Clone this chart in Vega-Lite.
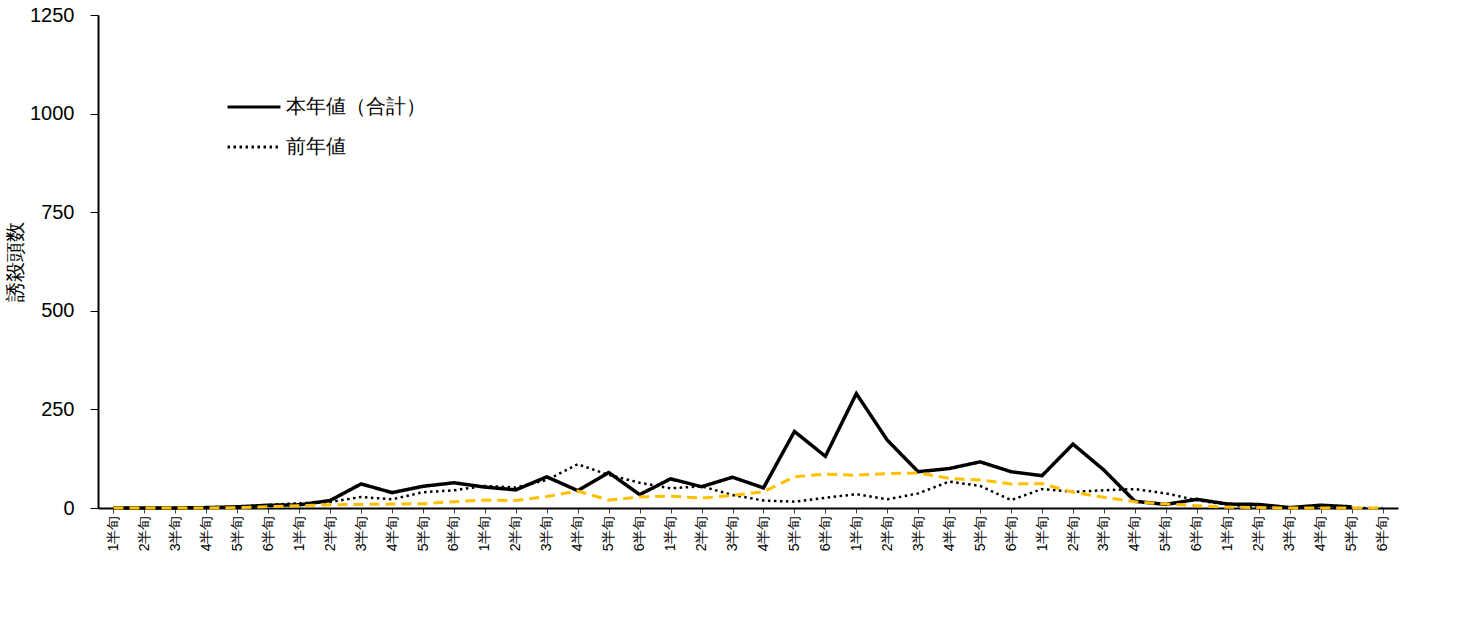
{
  "$schema": "https://vega.github.io/schema/vega-lite/v6.json",
  "width": 1300,
  "height": 493,
  "background": "white",
  "config": {
    "view": {"stroke": null},
    "axis": {"labelColor": "black", "titleColor": "black"}
  },
  "data": {"values": [
      {"k": "05月1半旬", "cur": 0, "prev": 0, "avg": 0},
      {"k": "05月2半旬", "cur": 0, "prev": 0, "avg": 0},
      {"k": "05月3半旬", "cur": 0, "prev": 0, "avg": 0},
      {"k": "05月4半旬", "cur": 1, "prev": 1, "avg": 0},
      {"k": "05月5半旬", "cur": 3, "prev": 3, "avg": 1},
      {"k": "05月6半旬", "cur": 7, "prev": 8, "avg": 3},
      {"k": "06月1半旬", "cur": 8, "prev": 12, "avg": 6},
      {"k": "06月2半旬", "cur": 19, "prev": 15, "avg": 8},
      {"k": "06月3半旬", "cur": 61, "prev": 28, "avg": 9},
      {"k": "06月4半旬", "cur": 39, "prev": 22, "avg": 10},
      {"k": "06月5半旬", "cur": 55, "prev": 40, "avg": 11},
      {"k": "06月6半旬", "cur": 64, "prev": 45, "avg": 16},
      {"k": "07月1半旬", "cur": 53, "prev": 56, "avg": 20},
      {"k": "07月2半旬", "cur": 46, "prev": 52, "avg": 19},
      {"k": "07月3半旬", "cur": 79, "prev": 71, "avg": 29},
      {"k": "07月4半旬", "cur": 44, "prev": 111, "avg": 43},
      {"k": "07月5半旬", "cur": 90, "prev": 84, "avg": 20},
      {"k": "07月6半旬", "cur": 34, "prev": 64, "avg": 28},
      {"k": "08月1半旬", "cur": 74, "prev": 50, "avg": 30},
      {"k": "08月2半旬", "cur": 54, "prev": 55, "avg": 25},
      {"k": "08月3半旬", "cur": 78, "prev": 33, "avg": 32},
      {"k": "08月4半旬", "cur": 51, "prev": 19, "avg": 41},
      {"k": "08月5半旬", "cur": 194, "prev": 16, "avg": 79},
      {"k": "08月6半旬", "cur": 131, "prev": 26, "avg": 86},
      {"k": "09月1半旬", "cur": 290, "prev": 35, "avg": 83},
      {"k": "09月2半旬", "cur": 172, "prev": 22, "avg": 87},
      {"k": "09月3半旬", "cur": 92, "prev": 37, "avg": 89},
      {"k": "09月4半旬", "cur": 100, "prev": 67, "avg": 75},
      {"k": "09月5半旬", "cur": 117, "prev": 56, "avg": 71},
      {"k": "09月6半旬", "cur": 92, "prev": 20, "avg": 61},
      {"k": "10月1半旬", "cur": 82, "prev": 48, "avg": 62},
      {"k": "10月2半旬", "cur": 162, "prev": 41, "avg": 40},
      {"k": "10月3半旬", "cur": 96, "prev": 45, "avg": 27},
      {"k": "10月4半旬", "cur": 17, "prev": 48, "avg": 16},
      {"k": "10月5半旬", "cur": 9, "prev": 37, "avg": 10},
      {"k": "10月6半旬", "cur": 22, "prev": 20, "avg": 6},
      {"k": "11月1半旬", "cur": 10, "prev": 8, "avg": 2},
      {"k": "11月2半旬", "cur": 9, "prev": 3, "avg": 1},
      {"k": "11月3半旬", "cur": 1, "prev": 0, "avg": 0},
      {"k": "11月4半旬", "cur": 7, "prev": 0, "avg": 0},
      {"k": "11月5半旬", "cur": 3, "prev": 0, "avg": 0},
      {"k": "11月6半旬", "cur": null, "prev": 0, "avg": 0}
  ]},
  "encoding": {
    "x": {
      "field": "k", "type": "nominal",
      "axis": {
        "title": null, "labelExpr": "slice(datum.value, 3)",
        "labelAngle": -90, "labelFontSize": 14,
        "domainColor": "black", "domainWidth": 2, "tickColor": "#404040"
      }
    }
  },
  "layer": [
    {
      "transform": [{"fold": ["prev"], "as": ["s", "v"]}],
      "mark": {"type": "line", "color": "black", "strokeWidth": 2.5},
      "encoding": {
        "y": {
          "field": "v", "type": "quantitative",
          "scale": {"domain": [0, 1250], "nice": false},
          "axis": {
            "title": "誘殺頭数", "titleFontSize": 20, "titleFontWeight": "normal",
            "values": [0, 250, 500, 750, 1000, 1250], "format": "d", "grid": false,
            "labelFontSize": 20, "labelPadding": 16, "tickSize": 8, "tickColor": "black",
            "domainColor": "black", "domainWidth": 2
          }
        },
        "strokeDash": {
          "field": "s", "type": "nominal",
          "scale": {"domain": ["cur", "prev"], "range": [[1, 0], [2.5, 3.5]]},
          "legend": {
            "title": null, "orient": "none", "legendX": 128, "legendY": 64,
            "labelFontSize": 20, "labelColor": "black", "symbolSize": 2800, "symbolStrokeWidth": 3,
            "labelExpr": "datum.label == 'cur' ? '本年値（合計）' : '前年値'"
          }
        }
      }
    },
    {
      "transform": [{"fold": ["cur"], "as": ["s", "v"]}],
      "mark": {"type": "line", "color": "black", "strokeWidth": 3.5},
      "encoding": {
        "y": {"field": "v", "type": "quantitative"},
        "strokeDash": {"field": "s", "type": "nominal"}
      }
    },
    {
      "mark": {"type": "line", "color": "#FFC000", "strokeWidth": 3, "strokeDash": [10, 6]},
      "encoding": {
        "y": {"field": "avg", "type": "quantitative"}
      }
    }
  ]
}
